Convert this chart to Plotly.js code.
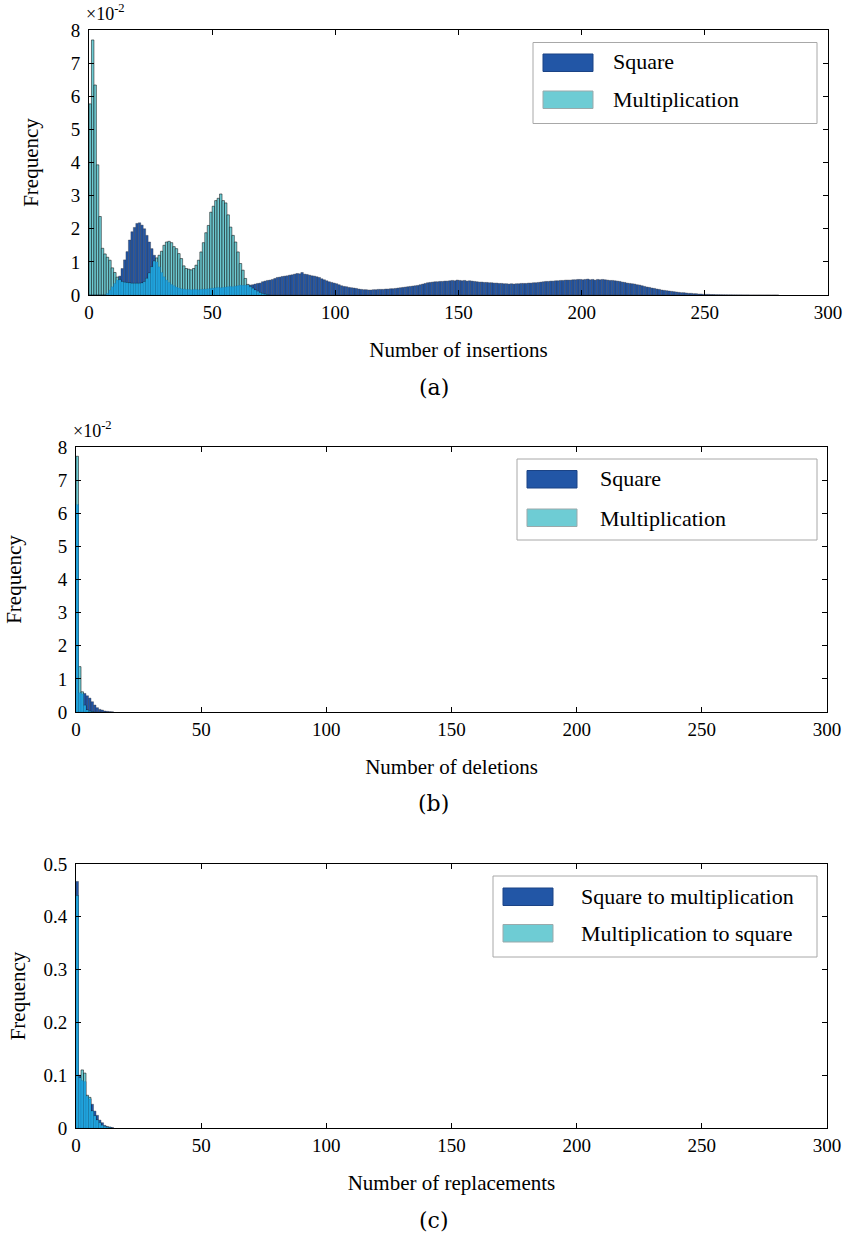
<!DOCTYPE html>
<html>
<head>
<meta charset="utf-8">
<script src="https://cdn.plot.ly/plotly-3.0.1.min.js"></script>
<style>html,body{margin:0;padding:0;background:#fff;}#chart{width:847px;height:1238px;}</style>
</head>
<body>
<div id="chart"></div>
<script>
// ---------- DATA (frequency per unit bin, bins start at 0) ----------
// Panel (a): number of insertions, values in units of 1e-2
var insertSquare = [
  0, 0, 0, 0, 0, 0, 0, 0.05, 0.15, 0.25,
  0.35, 0.45, 0.57, 0.8, 1.06, 1.31, 1.66, 1.91, 2.04, 2.16,
  2.18, 2.11, 2.0, 1.8, 1.6, 1.4, 1.2, 1.0, 0.85, 0.68,
  0.55, 0.45, 0.38, 0.32, 0.28, 0.24, 0.21, 0.19, 0.18, 0.17,
  0.17, 0.16, 0.17, 0.17, 0.16, 0.17, 0.18, 0.18, 0.19, 0.2,
  0.21, 0.22, 0.23, 0.22, 0.23, 0.24, 0.25, 0.26, 0.25, 0.27,
  0.28, 0.3, 0.29, 0.3, 0.29, 0.3, 0.31, 0.33, 0.35, 0.36,
  0.4, 0.42, 0.44, 0.45, 0.47, 0.5, 0.53, 0.54, 0.56, 0.57,
  0.58, 0.6, 0.61, 0.63, 0.65, 0.64, 0.68, 0.63, 0.62, 0.6,
  0.58, 0.57, 0.55, 0.53, 0.49, 0.46, 0.43, 0.4, 0.38, 0.36,
  0.34, 0.31, 0.28, 0.26, 0.25, 0.23, 0.22, 0.21, 0.2, 0.18,
  0.17, 0.16, 0.16, 0.15, 0.15, 0.16, 0.16, 0.17, 0.17, 0.17,
  0.18, 0.18, 0.19, 0.19, 0.2, 0.21, 0.22, 0.23, 0.24, 0.25,
  0.26, 0.27, 0.28, 0.29, 0.31, 0.33, 0.35, 0.37, 0.38, 0.39,
  0.4, 0.4, 0.41, 0.41, 0.42, 0.42, 0.43, 0.44, 0.43, 0.45,
  0.44, 0.43, 0.44, 0.42, 0.43, 0.42, 0.41, 0.4, 0.39, 0.39,
  0.38, 0.38, 0.37, 0.37, 0.36, 0.36, 0.35, 0.35, 0.34, 0.34,
  0.33, 0.34, 0.33, 0.34, 0.34, 0.35, 0.35, 0.35, 0.36, 0.36,
  0.37, 0.37, 0.38, 0.39, 0.4, 0.41, 0.41, 0.42, 0.42, 0.43,
  0.43, 0.44, 0.44, 0.45, 0.45, 0.45, 0.46, 0.46, 0.47, 0.47,
  0.46, 0.47, 0.48, 0.46, 0.47, 0.45, 0.47, 0.46, 0.47, 0.46,
  0.45, 0.44, 0.44, 0.43, 0.42, 0.41, 0.39, 0.38, 0.36, 0.35,
  0.34, 0.33, 0.31, 0.3, 0.28, 0.26, 0.24, 0.23, 0.21, 0.2,
  0.18, 0.17, 0.15, 0.14, 0.13, 0.12, 0.11, 0.1, 0.09, 0.08,
  0.07, 0.07, 0.06, 0.05, 0.05, 0.04, 0.04, 0.03, 0.03, 0.02,
  0.02, 0.02, 0.015, 0.015, 0.01, 0.01, 0.008, 0.007, 0.006, 0.005,
  0.005, 0.004, 0.004, 0.003, 0.003, 0.002, 0.002, 0.002, 0.001, 0.001,
  0.001, 0.001, 0.001, 0, 0, 0.001, 0, 0, 0.001, 0
];
var insertMult = [
  5.77, 7.7, 6.34, 3.93, 2.37, 1.41, 1.24, 1.14, 1.05, 0.82,
  0.68, 0.54, 0.46, 0.4, 0.38, 0.37, 0.36, 0.35, 0.35, 0.35,
  0.35, 0.36, 0.4, 0.5, 0.66, 0.85, 1.02, 1.12, 1.2, 1.32,
  1.5, 1.6, 1.62, 1.58, 1.46, 1.4, 1.25, 1.1, 0.88, 0.8,
  0.78, 0.76, 0.8, 0.9, 1.05, 1.3, 1.58, 1.88, 2.1, 2.5,
  2.68, 2.85, 2.92, 3.05, 2.85, 2.78, 2.42, 2.05, 1.8, 1.6,
  1.3, 0.95, 0.75, 0.5, 0.32, 0.25, 0.2, 0.15, 0.11, 0.07,
  0.04, 0.02, 0.01
];
// Panel (b): number of deletions, values in units of 1e-2
var deleteSquare = [6.26, 0.58, 0.55, 0.56, 0.49, 0.42, 0.31, 0.21, 0.13, 0.08, 0.06, 0.03, 0.02, 0.01, 0.005];
var deleteMult = [7.72, 1.37, 0.61, 0.2, 0.06, 0.02, 0.01];
// Panel (c): number of replacements
var replSquareToMult = [0.467, 0.1, 0.09, 0.088, 0.06, 0.055, 0.045, 0.032, 0.024, 0.015, 0.01, 0.005, 0.003, 0.002, 0.001];
var replMultToSquare = [0.44, 0.095, 0.11, 0.104, 0.062, 0.058, 0.032, 0.023, 0.015, 0.01, 0.005, 0.003, 0.0015, 0.001];

var legendA = ["Square", "Multiplication"];
var legendC = ["Square to multiplication", "Multiplication to square"];
var xTitles = ["Number of insertions", "Number of deletions", "Number of replacements"];
var captions = ["(a)", "(b)", "(c)"];

// ---------- STYLE ----------
var DARK = "#2256A6", CYAN = "#6ECCD4", OVER = "#20A3DC";
var W = 847, H = 1238;
function px(x) { return x / W; }
function py(y) { return 1 - y / H; }
var FONT = "Liberation Serif";

function binsX(arr) { return arr.map(function (_, i) { return i + 0.5; }); }
function overlap(a, b) {
  var n = Math.min(a.length, b.length), out = [];
  for (var i = 0; i < n; i++) out.push(Math.min(a[i], b[i]));
  return out;
}
function traces(s, m, names, xa, ya) {
  return [
    { type: "bar", x: binsX(s), y: s, width: 1, name: names[0], xaxis: xa, yaxis: ya,
      marker: { color: DARK, line: { color: "rgba(50,50,60,0.75)", width: 0.5 } }, showlegend: false, hoverinfo: "x+y+name" },
    { type: "bar", x: binsX(m), y: m, width: 1, name: names[1], xaxis: xa, yaxis: ya,
      marker: { color: CYAN, line: { color: "rgba(0,0,0,0.85)", width: 0.6 } }, showlegend: false, hoverinfo: "x+y+name" },
    { type: "bar", x: binsX(overlap(s, m)), y: overlap(s, m), width: 1, name: "overlap", xaxis: xa, yaxis: ya,
      marker: { color: OVER, line: { color: "rgba(20,90,140,0.5)", width: 0.3 } }, showlegend: false, hoverinfo: "skip" }
  ];
}

var data = []
  .concat(traces(insertSquare, insertMult, legendA, "x", "y"))
  .concat(traces(deleteSquare, deleteMult, legendA, "x2", "y2"))
  .concat(traces(replSquareToMult, replMultToSquare, legendC, "x3", "y3"));

function xAxis(dom, anchor, title, standoff) {
  return {
    domain: dom, anchor: anchor, range: [0, 300], dtick: 50, tick0: 0,
    ticks: "inside", ticklen: 5, tickwidth: 1, tickcolor: "#000",
    showline: true, linecolor: "#000", linewidth: 1, mirror: "ticks",
    showgrid: false, zeroline: false, tickfont: { family: FONT, size: 19, color: "#000" },
    title: { text: title, font: { family: FONT, size: 21, color: "#000" }, standoff: standoff },
    automargin: false, fixedrange: true
  };
}
function yAxis(dom, anchor, range, dtick, standoff) {
  return {
    domain: dom, anchor: anchor, range: range, dtick: dtick, tick0: 0,
    ticks: "inside", ticklen: 5, tickwidth: 1, tickcolor: "#000",
    showline: true, linecolor: "#000", linewidth: 1, mirror: "ticks",
    showgrid: false, zeroline: false, tickfont: { family: FONT, size: 19, color: "#000" },
    ticklabelstandoff: 4,
    title: { text: "Frequency", font: { family: FONT, size: 21, color: "#000" }, standoff: standoff },
    automargin: false, fixedrange: true
  };
}

var shapes = [], annotations = [];
function legendBox(x0, x1, y0, y1, sw, texts, textX, textY) {
  shapes.push({ type: "rect", xref: "paper", yref: "paper", x0: px(x0), x1: px(x1), y0: py(y1), y1: py(y0),
    line: { color: "#a8a8a8", width: 1 }, fillcolor: "#fff", layer: "above" });
  shapes.push({ type: "rect", xref: "paper", yref: "paper", x0: px(sw[0]), x1: px(sw[1]), y0: py(sw[3]), y1: py(sw[2]),
    line: { color: "#1b4385", width: 1 }, fillcolor: DARK, layer: "above" });
  shapes.push({ type: "rect", xref: "paper", yref: "paper", x0: px(sw[0]), x1: px(sw[1]), y0: py(sw[5]), y1: py(sw[4]),
    line: { color: "#9aa9ab", width: 1 }, fillcolor: CYAN, layer: "above" });
  for (var i = 0; i < 2; i++) {
    annotations.push({ xref: "paper", yref: "paper", x: px(textX), y: py(textY[i]), xanchor: "left", yanchor: "middle",
      text: texts[i], showarrow: false, font: { family: FONT, size: 22, color: "#000" } });
  }
}
legendBox(533, 817, 42.5, 123.5, [543, 593, 54, 71.5, 91, 108.5], legendA, 611, [62, 100]);
legendBox(517, 817, 459, 540, [527, 577, 470.5, 488, 509, 526.5], legendA, 598, [479, 518]);
legendBox(493, 817, 876, 957, [503, 553, 888, 905.5, 924.5, 942], legendC, 579, [896.5, 933.5]);

function expLabel(x, y) {
  annotations.push({ xref: "paper", yref: "paper", x: px(x), y: py(y), xanchor: "left", yanchor: "middle",
    text: "×10<sup>-2</sup>", showarrow: false, font: { family: FONT, size: 18, color: "#000" } });
}
expLabel(84, 12);
expLabel(71, 430);

var capY = [388, 803, 1220];
for (var k = 0; k < 3; k++) {
  annotations.push({ xref: "paper", yref: "paper", x: px(434), y: py(capY[k]), xanchor: "center", yanchor: "middle",
    text: captions[k], showarrow: false, font: { family: "DejaVu Serif", size: 22, color: "#000" } });
}

var layout = {
  width: W, height: H, margin: { l: 0, r: 0, t: 0, b: 0 },
  paper_bgcolor: "#fff", plot_bgcolor: "#fff",
  barmode: "overlay", bargap: 0, showlegend: false,
  font: { family: FONT, color: "#000" },
  xaxis: xAxis([px(89), px(828)], "y", xTitles[0], 20),
  yaxis: yAxis([py(295), py(30)], "x", [0, 8], 1, 26),
  xaxis2: xAxis([px(76), px(827)], "y2", xTitles[1], 20),
  yaxis2: yAxis([py(712), py(447)], "x2", [0, 8], 1, 30),
  xaxis3: xAxis([px(76), px(827)], "y3", xTitles[2], 20),
  yaxis3: yAxis([py(1128), py(864)], "x3", [0, 0.5], 0.1, 12),
  shapes: shapes, annotations: annotations
};

Plotly.newPlot("chart", data, layout, { staticPlot: true, displayModeBar: false });
</script>
</body>
</html>
